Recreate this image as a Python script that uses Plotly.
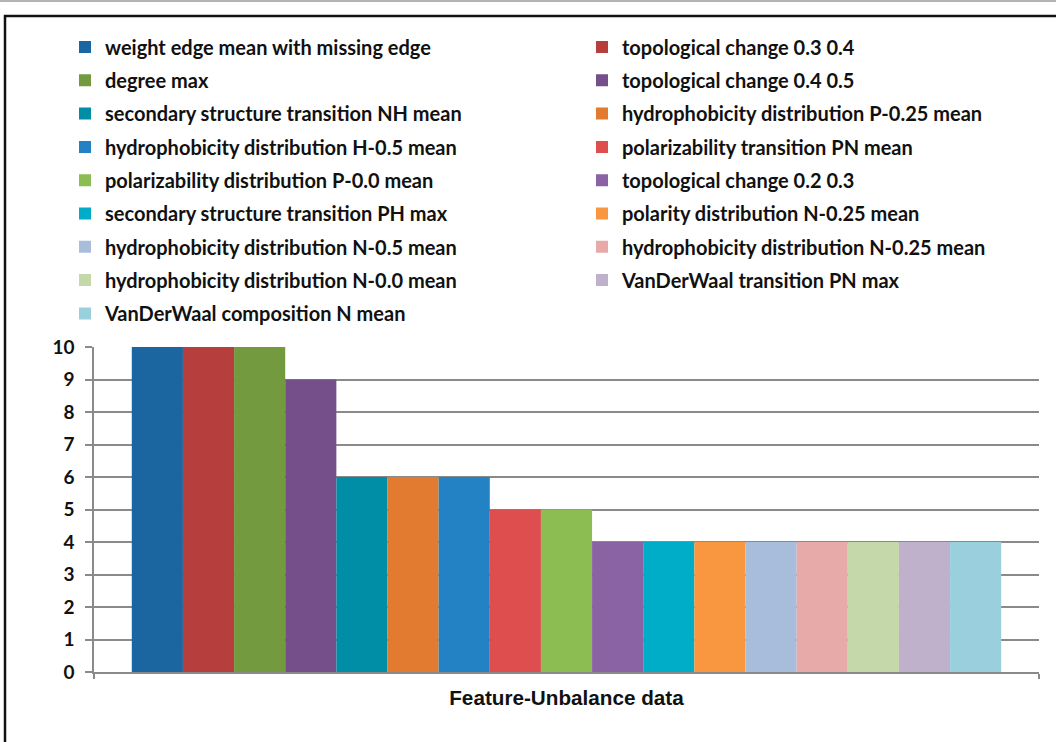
import plotly.graph_objects as go

# Single category, one bar per feature
category = ["Feature-Unbalance data"]

features = [
    "weight edge mean with missing edge",
    "topological change 0.3 0.4",
    "degree max",
    "topological change 0.4 0.5",
    "secondary structure transition NH mean",
    "hydrophobicity distribution P-0.25 mean",
    "hydrophobicity distribution H-0.5 mean",
    "polarizability transition PN mean",
    "polarizability distribution P-0.0 mean",
    "topological change 0.2 0.3",
    "secondary structure transition PH max",
    "polarity distribution N-0.25 mean",
    "hydrophobicity distribution N-0.5 mean",
    "hydrophobicity distribution N-0.25 mean",
    "hydrophobicity distribution N-0.0 mean",
    "VanDerWaal transition PN max",
    "VanDerWaal composition N mean",
]

counts = [10, 10, 10, 9, 6, 6, 6, 5, 5, 4, 4, 4, 4, 4, 4, 4, 4]

colors = [
    "#1B65A0", "#B63E3C", "#739A3F", "#754F89", "#008EA6", "#E27A30",
    "#2382C3", "#DE4E4E", "#8BBD52", "#8A63A4", "#00ADC8", "#F99640",
    "#A8BCDB", "#E8A9A9", "#C4D8AA", "#BFB0CC", "#9ACFDE",
]

y_ticks = list(range(0, 11))

# Plot-area geometry in pixels (used to place decorations in paper units)
W, H = 1056, 742
L, R, T, B = 94, 17, 347, 70
PW, PH = W - L - R, H - T - B


def px_x(x):
    return (x - L) / PW


def px_y(y):
    return (H - B - y) / PH


fig = go.Figure()
for i, (name, val, col) in enumerate(zip(features, counts, colors)):
    fig.add_trace(go.Bar(
        x=category,
        y=[val],
        name=name,
        marker=dict(color=col, line=dict(width=0)),
        legend="legend" if i % 2 == 0 else "legend2",
        legendgroup=name,
    ))

legend_font = dict(family="Lato", size=20, color="#111111", weight="bold")
legend_common = dict(
    orientation="v",
    traceorder="grouped",
    tracegroupgap=4.3,
    font=legend_font,
    bgcolor="rgba(0,0,0,0)",
    borderwidth=0,
    xanchor="left",
    yanchor="top",
    y=px_y(27.5),
)

fig.update_layout(
    width=W,
    height=H,
    margin=dict(l=L, r=R, t=T, b=B),
    paper_bgcolor="white",
    plot_bgcolor="white",
    barmode="group",
    bargap=0.08,
    bargroupgap=0,
    showlegend=True,
    legend=dict(x=px_x(65), **legend_common),
    legend2=dict(x=px_x(582), **legend_common),
    xaxis=dict(
        type="category",
        range=[-0.5, 0.5],
        showline=True,
        linecolor="#8A8A8A",
        linewidth=1.5,
        ticks="outside",
        tickson="boundaries",
        ticklen=5,
        tickcolor="#8A8A8A",
        tickwidth=1.5,
        showgrid=False,
        tickfont=dict(family="Liberation Sans", size=20.7, color="#111111",
                      weight="bold"),
        ticklabelstandoff=6,
        fixedrange=True,
    ),
    yaxis=dict(
        range=[0, 10],
        tickvals=y_ticks,
        showline=True,
        linecolor="#8A8A8A",
        linewidth=1.5,
        ticks="outside",
        ticklen=7,
        tickcolor="#8A8A8A",
        tickwidth=1.5,
        showgrid=True,
        gridcolor="#8A8A8A",
        gridwidth=1.5,
        zeroline=False,
        tickfont=dict(family="Lato", size=19, color="#111111", weight="bold"),
        ticklabelstandoff=7,
        fixedrange=True,
    ),
    shapes=[
        # outer chart frame
        dict(type="rect", xref="paper", yref="paper",
             x0=px_x(5), x1=px_x(1064), y0=px_y(16), y1=px_y(750),
             line=dict(color="#111111", width=2.5), fillcolor="rgba(0,0,0,0)",
             layer="below"),
        # thin rule along the top of the page
        dict(type="line", xref="paper", yref="paper",
             x0=px_x(0), x1=px_x(W), y0=px_y(1), y1=px_y(1),
             line=dict(color="#9A9A9A", width=1.5)),
    ],
)

fig.write_html("out.html")
